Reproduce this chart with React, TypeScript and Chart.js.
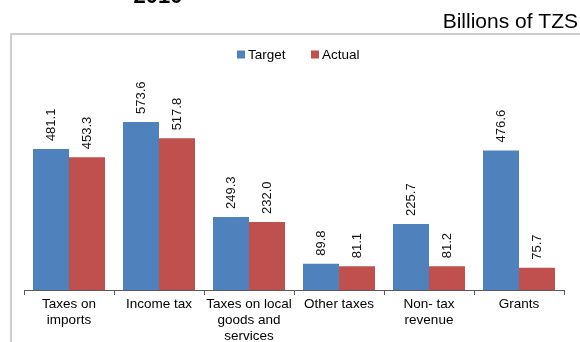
import React, { useEffect, useRef } from "react";
import { Chart, registerables } from "chart.js";

Chart.register(...registerables);

const categories: string[][] = [
  ["Taxes on", "imports"],
  ["Income tax"],
  ["Taxes on local", "goods and", "services"],
  ["Other taxes"],
  ["Non- tax", "revenue"],
  ["Grants"],
];
const targetValues = [481.1, 573.6, 249.3, 89.8, 225.7, 476.6];
const actualValues = [453.3, 517.8, 232.0, 81.1, 81.2, 75.7];
const seriesNames = ["Target", "Actual"];
const seriesColors = ["#4F81BD", "#C0504D"];
const titleText = "2010";
const unitText = "Billions of TZS";

const FONT = "Arial, 'Liberation Sans', sans-serif";

const decorPlugin = {
  id: "decor",
  afterDatasetsDraw(chart: any) {
    const ctx = chart.ctx;
    ctx.save();
    chart.data.datasets.forEach((ds: any, di: number) => {
      const meta = chart.getDatasetMeta(di);
      meta.data.forEach((bar: any, i: number) => {
        const v = ds.data[i];
        ctx.save();
        ctx.translate(bar.x, bar.y - 8);
        ctx.rotate(-Math.PI / 2);
        ctx.font = `13px ${FONT}`;
        ctx.fillStyle = "#111";
        ctx.textAlign = "left";
        ctx.textBaseline = "middle";
        ctx.fillText(v.toFixed(1), 0, 0);
        ctx.restore();
      });
    });
    ctx.restore();
  },
  afterDraw(chart: any) {
    const ctx = chart.ctx;
    ctx.save();
    ctx.strokeStyle = "#BDBDBD";
    ctx.lineWidth = 1.5;
    ctx.beginPath();
    ctx.moveTo(580, 34);
    ctx.lineTo(11, 34);
    ctx.lineTo(11, 342);
    ctx.stroke();
    ctx.fillStyle = "#000";
    ctx.font = `bold 22px ${FONT}`;
    ctx.textAlign = "center";
    ctx.textBaseline = "alphabetic";
    ctx.fillText(titleText, 158, 3);
    ctx.font = `21px ${FONT}`;
    ctx.textAlign = "right";
    ctx.fillText(unitText, 578, 28);
    const items = [
      { x: 237, label: seriesNames[0], color: seriesColors[0] },
      { x: 311, label: seriesNames[1], color: seriesColors[1] },
    ];
    ctx.font = `13.5px ${FONT}`;
    ctx.textAlign = "left";
    ctx.textBaseline = "middle";
    items.forEach((it) => {
      ctx.fillStyle = it.color;
      ctx.fillRect(it.x, 50.5, 8, 8);
      ctx.fillStyle = "#000";
      ctx.fillText(it.label, it.x + 11, 55);
    });
    ctx.restore();
  },
};

export default function App() {
  const ref = useRef<HTMLCanvasElement>(null);
  useEffect(() => {
    if (!ref.current) return;
    const chart = new Chart(ref.current, {
      type: "bar",
      data: {
        labels: categories,
        datasets: [
          {
            label: seriesNames[0],
            data: targetValues,
            backgroundColor: seriesColors[0],
            borderWidth: 0,
            categoryPercentage: 0.8,
            barPercentage: 1.0,
          },
          {
            label: seriesNames[1],
            data: actualValues,
            backgroundColor: seriesColors[1],
            borderWidth: 0,
            categoryPercentage: 0.8,
            barPercentage: 1.0,
          },
        ],
      },
      options: {
        animation: false,
        responsive: true,
        maintainAspectRatio: false,
        devicePixelRatio: 1,
        layout: { padding: { left: 24, right: 16, top: 85, bottom: 0 } },
        plugins: {
          legend: { display: false },
          title: { display: false },
          tooltip: { enabled: false },
        },
        scales: {
          x: {
            grid: {
              offset: true,
              drawOnChartArea: false,
              drawTicks: true,
              tickLength: 5,
              color: "#595959",
            },
            border: { color: "#595959", width: 1 },
            ticks: {
              color: "#000",
              padding: 1,
              maxRotation: 0,
              autoSkip: false,
              font: { family: FONT, size: 13.5, lineHeight: 1.19 },
            },
            afterFit: (s: any) => {
              s.height = 52;
            },
          },
          y: {
            display: false,
            min: 0,
            max: 700,
          },
        },
      },
      plugins: [decorPlugin],
    });
    return () => chart.destroy();
  }, []);
  return (
    <div style={{ position: "fixed", left: 0, top: 0, width: 580, height: 342, background: "#fff" }}>
      <canvas ref={ref} />
    </div>
  );
}
